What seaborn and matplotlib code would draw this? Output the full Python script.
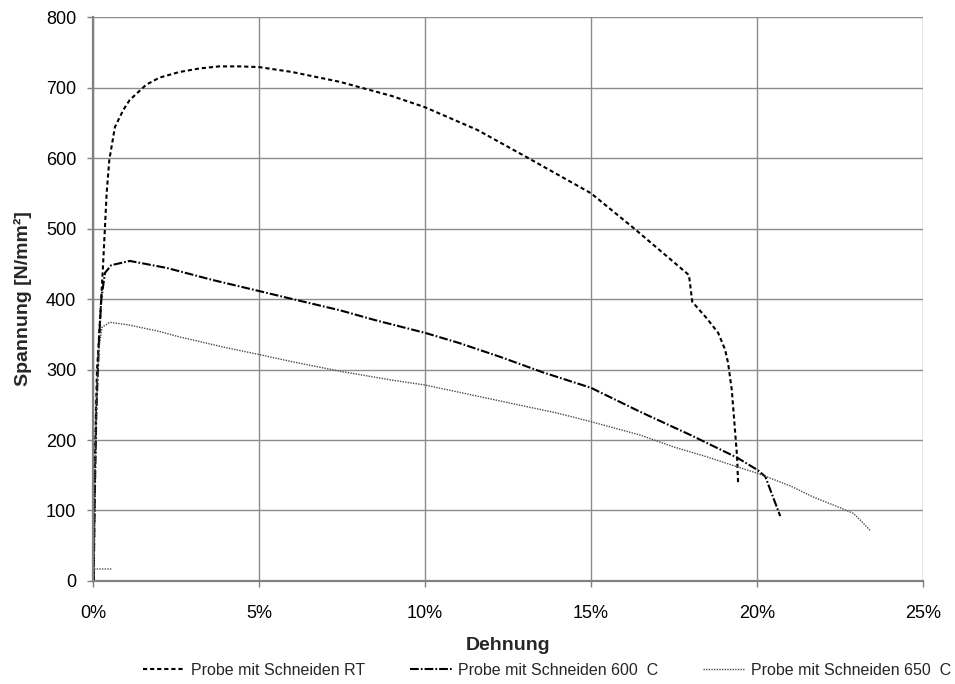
import matplotlib
matplotlib.use("Agg")
import matplotlib.pyplot as plt
import pandas as pd
import seaborn as sns

# Strain in percent, stress in N/mm²
rt_strain = [0.02, 0.04, 0.07, 0.12, 0.16, 0.29, 0.36, 0.41, 0.49, 0.66, 0.91, 1.1,
             1.6, 2.0, 2.6, 3.2, 3.8, 4.4, 5.0, 6.0, 7.44, 9.0, 10.0, 11.57, 13.07,
             15.0, 16.3, 17.95, 18.05, 18.48, 18.83, 19.04, 19.13, 19.24, 19.32,
             19.4, 19.43]
rt_stress = [0, 100, 200, 300, 328, 437, 502, 550, 597, 644, 668, 682,
             704, 714, 722, 727, 730, 730, 729, 722, 708, 688, 672, 640, 601,
             550, 500, 434, 396, 373, 352, 328, 309, 271, 224,
             176, 139]

c600_strain = [0.02, 0.05, 0.1, 0.18, 0.25, 0.36, 0.55, 1.11, 2.23, 3.6, 5.03, 6.0,
               7.44, 8.5, 10.0, 11.0, 12.26, 13.55, 15.0, 16.48, 18.0, 19.4, 20.03,
               20.25, 20.7]
c600_stress = [0, 110, 240, 340, 400, 437, 448, 454, 444, 427, 411, 400,
               384, 370, 352, 338, 318, 296, 274, 240, 207, 175, 157,
               148, 92]

c650_strain = [0.55, 0.03, 0.05, 0.1, 0.18, 0.27, 0.51, 1.1, 2.0, 2.62, 3.0, 4.0,
               5.03, 6.0, 7.5, 9.0, 10.0, 11.5, 12.5, 14.0, 15.0, 16.48, 17.5,
               18.5, 19.4, 20.0, 21.0, 21.7, 22.5, 22.9, 23.1, 23.4]
c650_stress = [17, 17, 120, 250, 330, 360, 367, 363, 354, 346, 342, 331,
               321, 311, 297, 285, 278, 263, 253, 238, 226, 207, 190,
               176, 162, 153, 135, 119, 104, 96, 87, 72]

series_labels = ["Probe mit Schneiden RT", "Probe mit Schneiden 600  C",
                 "Probe mit Schneiden 650  C"]
x_ticks = [0, 5, 10, 15, 20, 25]
y_ticks = [0, 100, 200, 300, 400, 500, 600, 700, 800]

sns.set_style("white")
plt.rcParams["font.family"] = ["Liberation Sans", "DejaVu Sans"]

fig = plt.figure(figsize=(9.55, 6.84), dpi=100)
ax = fig.add_axes([0.0974, 0.1506, 0.8691, 0.8245])

styles = [
    dict(color="black", lw=1.5, dashes=(2.0, 1.4)),
    dict(color="black", lw=1.5, dashes=(4.2, 1.0, 0.8, 1.0)),
    dict(color="#4a4a4a", lw=1.0, dashes=(1.0, 0.9)),
]
data = [(rt_strain, rt_stress), (c600_strain, c600_stress), (c650_strain, c650_stress)]

handles = []
for (xs, ys), lab, st in zip(data, series_labels, styles):
    df = pd.DataFrame({"Dehnung": xs, "Spannung": ys})
    sns.lineplot(data=df, x="Dehnung", y="Spannung", sort=False, estimator=None,
                 ax=ax, color=st["color"], lw=st["lw"], legend=False)
    line = ax.lines[-1]
    line.set_dashes(st["dashes"])
    line.set_label(lab)
    handles.append(line)

ax.set_xlim(0, 25)
ax.set_ylim(0, 800)
ax.set_xticks(x_ticks)
ax.set_xticklabels([f"{t}%" for t in x_ticks])
ax.set_yticks(y_ticks)
ax.grid(True, color="#8c8c8c", lw=1.0)
ax.set_axisbelow(True)

for s in ["top", "right"]:
    ax.spines[s].set_visible(False)
for s in ["left", "bottom"]:
    ax.spines[s].set_color("#808080")
    ax.spines[s].set_linewidth(1.6)

ax.tick_params(axis="both", length=4, width=1, color="#808080", labelsize=13,
               labelcolor="black")
ax.tick_params(axis="y", pad=8)
ax.tick_params(axis="x", pad=13)
ax.tick_params(bottom=True, left=True)

ax.set_xlabel("Dehnung", fontsize=14, fontweight="bold", labelpad=11)
ax.set_ylabel("Spannung [N/mm²]", fontsize=14, fontweight="bold", labelpad=10)

fig.legend(handles=handles, labels=series_labels, loc="center",
           bbox_to_anchor=(0.573, 0.02), ncol=3, frameon=False, fontsize=11.5,
           handlelength=2.6, handletextpad=0.4, columnspacing=2.8)

fig.savefig("out.png", dpi=100, facecolor="white")
